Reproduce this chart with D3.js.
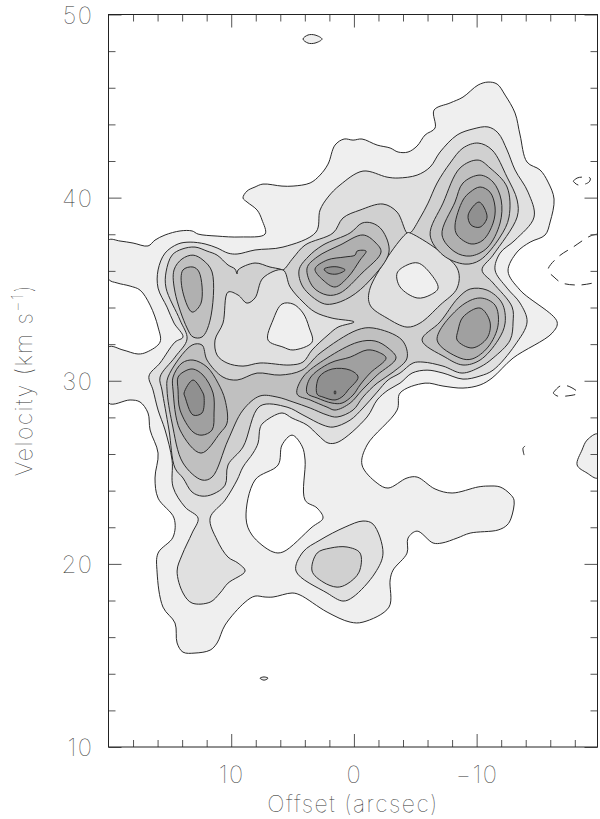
<!DOCTYPE html>
<html><head><meta charset="utf-8">
<style>html,body{margin:0;padding:0;background:#fff}svg{display:block}text{font-family:"Inter","DejaVu Sans";font-weight:100;fill:#333}</style>
<script src="https://cdn.jsdelivr.net/npm/d3@7/dist/d3.min.js"></script></head><body>
<svg id="c" width="600" height="819"></svg>
<script>
// Axis values
const offsetMajor=[10,0,-10], offsetMinor=[18,16,14,12,8,6,4,2,-2,-4,-6,-8,-12,-14,-16,-18];
const velocityMajor=[50,40,30,20,10], velocityMinor=[48,46,44,42,38,36,34,32,28,26,24,22,18,16,14,12];
// Contours: [offset arcsec, velocity km/s]
const level1Main=[[20,37.68],[19.06,37.63],[18,37.52],[16.78,37.36],[16.21,37.68],[15.39,37.96],[14.17,38.18],[13.19,38.18],[12.7,38.01],[11.15,37.9],[9.28,37.85],[7.24,38.01],[7.49,38.78],[7.89,39.32],[8.71,39.76],[9.04,39.98],[8.71,40.36],[8.06,40.58],[7.41,40.74],[5.86,40.63],[4.96,40.63],[3.57,40.8],[2.76,41.23],[2.11,41.83],[1.54,42.87],[0.8,43.2],[0.07,43.14],[-0.66,43.2],[-1.89,42.87],[-2.95,42.71],[-3.6,42.49],[-4.41,42.49],[-5.15,42.82],[-5.8,43.42],[-6.61,43.8],[-6.53,44.78],[-7.84,45.17],[-8.89,45.49],[-10.12,46.15],[-10.93,46.31],[-11.67,46.2],[-12.32,45.6],[-13.13,44.62],[-13.54,43.42],[-14.11,41.94],[-15.17,41.51],[-15.82,40.85],[-16.31,39.92],[-15.99,38.67],[-15.58,37.96],[-14.36,37.57],[-13.3,37.03],[-12.56,35.99],[-13.54,34.95],[-16.56,33.21],[-16.15,32.6],[-12.97,31.24],[-11.26,30.15],[-10.28,29.77],[-8.89,29.6],[-7.26,29.71],[-5.8,29.87],[-3.76,29.33],[-3.52,28.4],[-1.07,26.49],[-0.66,25.4],[-1.89,24.41],[-2.78,24.14],[-4.33,24.69],[-5.15,24.74],[-6.61,24.09],[-8,23.87],[-10.12,24.2],[-10.93,24.25],[-11.91,24.2],[-12.73,23.81],[-13.05,23.48],[-12.81,22.5],[-12.48,22.12],[-11.75,21.85],[-9.47,21.68],[-8.41,21.41],[-7.18,21.14],[-6.45,21.14],[-5.15,21.79],[-4.41,21.41],[-4.33,20.59],[-3.19,19.66],[-2.95,19.12],[-2.86,17.64],[-0.74,16.82],[0.31,16.82],[2.19,17.37],[4.39,18.3],[5.04,18.41],[6.59,18.19],[7.24,18.19],[8.06,18.24],[8.87,17.91],[10.5,16.66],[11.15,15.68],[11.72,15.29],[12.95,15.13],[13.93,15.18],[14.41,15.68],[14.58,16.77],[15.56,17.64],[16.04,19.55],[15.96,20.59],[14.74,21.46],[14.66,22.5],[15.96,23.59],[16.21,24.69],[15.96,26.05],[16.61,27.31],[16.78,28.24],[17.43,28.84],[18.24,28.95],[20,28.78],[20,31.84],[18.82,31.68],[17.59,31.46],[16.86,31.57],[15.8,32.11],[15.96,32.93],[16.61,34.13],[17.43,34.95],[18.24,35.17],[19.3,35.34],[20,35.55]];
const level1Top=[[4.15,48.66],[3.74,48.88],[3.17,48.88],[2.6,48.66],[3.17,48.44],[3.74,48.44]];
const level1Tiny=[[7.65,13.76],[7.41,13.82],[7.24,13.82],[7,13.76],[7.24,13.66],[7.41,13.66]];
const level1Edge=[[-19.85,27.09],[-19,26.76],[-18.59,26.22],[-18.19,25.4],[-19,24.96],[-19.85,24.69]];
const level0Hole=[[5.04,27.03],[4.23,26.43],[3.98,25.67],[3.98,23.48],[3,23.05],[2.52,22.5],[3.41,22.01],[5.78,20.65],[6.59,20.65],[8.3,21.57],[8.79,22.5],[8.06,24.58],[6.18,25.4],[5.86,26.49]];
const level2Main=[[16.7,30.26],[15.8,30.97],[14.58,32.11],[13.93,32.39],[14.66,33.15],[15.23,34.02],[15.96,35.06],[15.96,36.05],[15.39,36.97],[14.33,37.47],[13.35,37.57],[12.13,37.47],[11.15,37.25],[10.26,36.97],[9.52,36.92],[8.06,37.14],[5.78,37.3],[3.09,38.12],[2.76,39.32],[2.11,40.03],[1.13,40.69],[-0.74,41.45],[-2.7,41.12],[-3.6,41.07],[-5.15,41.23],[-6.21,41.67],[-7.02,42.49],[-8.41,43.42],[-9.71,43.75],[-10.93,43.86],[-11.75,43.53],[-12.48,42.6],[-13.13,41.51],[-14.19,40.3],[-14.68,38.94],[-13.13,37.68],[-11.91,36.97],[-11.5,36.05],[-12.48,35.06],[-13.54,34.24],[-14.11,33.21],[-13.13,31.95],[-11.34,30.58],[-10.28,30.26],[-8.89,30.09],[-7.26,30.42],[-5.96,30.58],[-4.74,30.42],[-3.76,29.87],[-2.78,29.49],[-1.89,28.95],[-1.07,28.02],[1.29,26.65],[2.11,26.6],[2.92,27.03],[3.82,27.58],[5.04,27.96],[5.86,28.24],[7.41,27.69],[7.65,27.42],[7.81,26.6],[8.22,26.05],[9.04,25.29],[9.52,24.58],[10.5,23.48],[11.72,22.5],[11.15,21.3],[10.26,20.37],[9.44,20.04],[8.87,19.61],[10.26,18.95],[10.91,18.41],[11.72,17.91],[13.19,17.86],[13.93,18.41],[14.41,19.61],[14.01,20.48],[13.19,21.68],[12.7,22.5],[13.76,23.1],[14.74,24.2],[14.82,25.67],[15.39,27.31],[15.96,28.4],[16.37,29.49]];
const level2Bottom=[[4.72,19.61],[4.15,20.65],[2.76,21.3],[0.72,22.01],[-0.74,22.34],[-1.56,22.17],[-2.37,20.59],[-1.72,19.5],[0.07,18.19],[0.89,17.97],[2.19,18.41]];
const level3Bottom=[[3.41,19.61],[3,20.59],[1.94,20.86],[0.56,20.92],[-0.5,20.59],[-0.42,19.55],[0.56,18.9],[1.37,18.73],[2.52,19.01]];
const level3Main=[[13.6,32.28],[14.17,33.31],[15.31,35.06],[15.31,35.94],[14.82,36.86],[14.01,37.19],[12.95,37.3],[11.97,37.08],[11.15,36.86],[10.26,36.32],[9.69,36.1],[9.52,35.83],[9.44,36.05],[8.06,36.43],[6.84,36.21],[6.02,36.1],[5.78,36.05],[4.96,36.7],[3.98,37.41],[1.7,38.07],[0.89,38.89],[-0.5,39.32],[-2.37,39.65],[-3.52,39.21],[-4.33,38.07],[-4.58,38.07],[-5.39,38.89],[-6.04,39.7],[-6.78,40.8],[-7.84,41.89],[-8.89,42.71],[-10.12,42.98],[-11.26,42.6],[-12.48,41.12],[-13.3,39.87],[-13.3,38.94],[-11.34,36.86],[-10.44,36.05],[-11.34,35.34],[-12.89,34.03],[-12.97,33.21],[-12.73,32.22],[-11.34,31.24],[-10.28,30.75],[-8.81,30.42],[-7.26,30.8],[-5.63,31.02],[-4.82,30.97],[-3.76,30.42],[-2.78,30.04],[-1.89,29.38],[-0.74,28.51],[0.31,27.85],[1.7,27.47],[2.52,27.58],[4.15,28.13],[5.45,28.56],[7.65,28.62],[9.04,26.38],[10.26,25.4],[10.5,24.3],[11.48,23.81],[12.38,23.7],[13.19,23.92],[13.93,24.69],[14.58,25.23],[15.07,27.31],[15.64,29.49],[15.8,30.2],[14.58,31.29]];
const islandA=[[5.78,36.05],[5.2,35.12],[4.15,34.3],[3.17,33.75],[1.78,33.42],[-0.01,33.21],[1.29,32.93],[2.11,32.5],[3.41,31.68],[4.15,31.02],[5.2,30.86],[7.65,30.97],[9.04,30.8],[10.34,30.97],[11.15,31.4],[11.32,32.22],[10.67,33.15],[10.26,34.84],[9.44,34.68],[8.71,34.24],[8.06,34.52],[7.41,35.61]];
const islandB=[[-4.33,38.07],[-1.32,35.06],[-1.32,34.13],[-2.7,33.42],[-4.33,32.93],[-5.39,33.15],[-7.02,34.13],[-8.41,35.06],[-8.41,36.15],[-4.58,38.07]];
const holeA=[[5.86,34.19],[4.96,34.19],[4.15,33.7],[3.66,32.93],[3.41,32.11],[4.96,31.68],[5.78,31.84],[7,32.22],[6.59,33.32]];
const holeB=[[-3.52,35.88],[-4.33,36.32],[-5.23,36.43],[-6.21,35.88],[-6.86,35.06],[-6.21,34.68],[-5.15,34.52],[-3.76,35.12]];
const ulL4=[[14.66,36.05],[14.01,36.65],[13.11,36.86],[12.3,36.59],[11.56,35.94],[11.72,33.31],[12.38,32.39],[13.11,32.39],[13.6,32.88],[14.58,34.84]];
const ulL5=[[13.93,36.05],[13.11,36.21],[12.62,35.94],[12.46,34.24],[13.19,33.75],[14.01,35.06]];
const bandL4=[[13.19,31.95],[12.38,31.95],[11.97,31.13],[10.67,30.2],[9.52,30.04],[7.89,30.42],[6.02,30.31],[4.23,30.58],[2.76,31.51],[-0.26,32.77],[-1.56,32.88],[-3.92,32.22],[-4.33,31.24],[-3.19,30.47],[-1.89,29.87],[-0.74,29.11],[0.07,28.4],[1.37,28.02],[2.19,28.13],[3.57,28.51],[4.96,28.84],[6.26,29.11],[7.65,29.17],[9.04,28.4],[10.26,26.76],[11.56,24.74],[12.38,24.58],[13.93,25.51],[14.82,27.69],[15.23,29.49],[15.15,30.2]];
const llL5=[[14.74,30.2],[14.01,30.97],[13.11,31.13],[11.97,30.75],[11.07,29.87],[10.5,28.95],[10.34,27.69],[10.91,27.14],[12.46,26.05],[14.17,27.31],[14.74,29.49]];
const llL6=[[14.33,30.2],[13.76,30.53],[13.11,30.64],[12.3,30.31],[11.48,29.33],[11.4,28.24],[11.56,27.31],[12.38,27.03],[13.11,27.2],[14.17,28.4],[14.33,29.49]];
const llL7=[[13.84,29.33],[13.11,30.04],[12.3,29.33],[12.21,29.11],[12.38,28.24],[13.11,28.13],[13.76,29.11]];
const ubL4=[[4.47,36.05],[3.74,36.76],[2.52,37.41],[0.31,38.07],[-0.66,38.61],[-1.48,38.61],[-2.29,38.23],[-2.86,37.03],[-1.32,35.5],[0.31,34.57],[1.78,34.19],[2.6,34.24],[4.15,35.12]];
const ubL5=[[3.82,36.15],[3,36.76],[1.13,37.41],[-0.74,37.96],[-1.72,37.57],[-2.21,37.03],[-0.66,35.88],[1.13,34.79],[2.19,34.68],[3.33,35.12]];
const ubL6=[[3.17,36.1],[2.19,36.59],[0.72,36.76],[-0.09,36.86],[-0.26,37.08],[-0.99,37.08],[-0.5,36.59],[0.48,35.66],[1.54,35.12],[2.52,35.5]];
const ubL7=[[2.43,36.1],[1.94,36.21],[1.29,36.21],[0.72,36.05],[1.37,35.83],[2.11,35.88]];
const mlL5=[[4.63,29.27],[4.15,30.2],[2.19,31.24],[-0.34,32.11],[-1.72,32.17],[-2.78,31.79],[-3.43,31.24],[-1.89,30.31],[-0.66,29.49],[0.31,28.78],[1.54,28.4],[2.19,28.56],[3.57,28.95]];
const mlL6=[[3.82,29.33],[3.57,30.15],[1.94,30.97],[0.31,31.29],[-1.07,31.68],[-1.97,31.57],[-2.62,31.24],[-1.32,30.42],[-0.5,29.77],[0.07,29.22],[0.97,28.78],[1.78,28.78],[3,29.06]];
const mlL7=[[3,29.27],[2.84,30.2],[1.78,30.64],[0.31,30.58],[-0.34,30.2],[0.48,29.49],[0.89,29.16],[1.54,28.95],[2.52,29.11]];
const mlL8=[[1.58,29.44],[1.5,29.44],[1.5,29.28],[1.58,29.28]];
const urL4=[[-10.12,42.05],[-11.09,41.62],[-12.48,40.58],[-12.64,38.94],[-11.91,37.85],[-10.28,36.59],[-9.05,36.37],[-7.26,36.86],[-6.21,37.96],[-7.26,39.7],[-8.65,41.62]];
const urL5=[[-10.28,41.23],[-11.34,40.85],[-12,39.87],[-11.91,38.61],[-10.85,37.25],[-9.47,36.81],[-8.24,37.03],[-7.18,37.96],[-8.24,39.76],[-8.89,40.8]];
const urL6=[[-10.28,40.58],[-11.09,40.3],[-11.5,39.49],[-11.34,38.61],[-10.52,37.68],[-9.55,37.47],[-8.41,37.96],[-8.24,38.5],[-8.89,39.87],[-9.47,40.3]];
const urL7=[[-10.2,39.76],[-10.85,38.94],[-10.28,38.39],[-9.55,38.5],[-9.31,39.05]];
const lrL4=[[-5.55,32.22],[-7.02,33.21],[-8.49,34.52],[-9.47,35.01],[-10.85,34.95],[-12.07,34.24],[-12.32,33.15],[-11.75,32.22],[-10.28,31.13],[-8.89,30.86],[-7.43,31.29]];
const lrL5=[[-6.78,32.22],[-8.65,34.03],[-10.28,34.52],[-11.5,34.13],[-11.75,33.04],[-10.93,31.84],[-9.63,31.19],[-8.65,31.24]];
const lrL6=[[-8.49,32.77],[-8.89,33.48],[-10.28,33.97],[-11.09,33.21],[-10.85,32.33],[-9.63,31.79],[-8.41,32.22]];
const dashedLarge=[[-19.85,38.01],[-19.25,37.9],[-17.86,37.3],[-16.64,36.76],[-15.82,36.05],[-16.31,35.66],[-16.96,35.34],[-18.43,35.23],[-19.85,35.39]];
const dashedTop=[[-17.86,40.9],[-18.19,41.07],[-18.59,41.12],[-19.25,41.07],[-19.16,40.85],[-18.27,40.69],[-17.86,40.9]];
const dashedLow=[[-16.23,29.33],[-16.8,29.71],[-17.45,29.71],[-18.27,29.33],[-17.37,29.17],[-16.56,29.17],[-16.23,29.33]];
const fragment=[[-13.95,26.43],[-13.78,26.32],[-13.87,25.94]];
const shades=["#ffffff","#efefef","#e0e0e0","#d0d0d0","#c0c0c0","#b0b0b0","#a0a0a0","#909090","#808080"];

const layers=[[1,level1Main],[1,level1Top],[1,level1Tiny],[1,level1Edge],[0,level0Hole],
 [2,level2Main],[2,level2Bottom],[3,level3Main],[3,level3Bottom],[2,islandA],[2,islandB],[1,holeA],[1,holeB],
 [4,ulL4],[5,ulL5],[4,bandL4],[5,llL5],[6,llL6],[7,llL7],[4,ubL4],[5,ubL5],[6,ubL6],[7,ubL7],
 [5,mlL5],[6,mlL6],[7,mlL7],[8,mlL8],[4,urL4],[5,urL5],[6,urL6],[7,urL7],[4,lrL4],[5,lrL5],[6,lrL6]];

const L=108.5,R=597.5,T=14.5,B=747;
const x=d3.scaleLinear().domain([20,-19.85]).range([L,R]);
const y=d3.scaleLinear().domain([50,10]).range([T,B]);
const svg=d3.select("#c");
svg.append("defs").append("clipPath").attr("id","frame").append("rect").attr("x",L).attr("y",T).attr("width",R-L).attr("height",B-T);
const closed=d3.line().x(d=>x(d[0])).y(d=>y(d[1])).curve(d3.curveCatmullRomClosed.alpha(0.5));
const line=d3.line().x(d=>x(d[0])).y(d=>y(d[1])).curve(d3.curveCatmullRom.alpha(0.5));
const plot=svg.append("g").attr("clip-path","url(#frame)");
plot.selectAll("path.lev").data(layers).join("path").attr("class","lev")
 .attr("d",d=>closed(d[1])).attr("fill",d=>shades[d[0]])
 .attr("stroke","#2a2a2a").attr("stroke-width",1).attr("stroke-linejoin","round");
plot.selectAll("path.neg").data([dashedLarge,dashedTop,dashedLow]).join("path").attr("class","neg")
 .attr("d",line).attr("fill","none").attr("stroke","#2a2a2a").attr("stroke-width",1).attr("stroke-dasharray","10 7");
plot.append("path").attr("d",line(fragment)).attr("fill","none").attr("stroke","#2a2a2a");

function drawAxis(maker,scale,values,len,fmt,tx,ty){
  const gen=maker(scale).tickValues(values).tickSizeOuter(0).tickSizeInner(-len).tickFormat(fmt);
  const g=svg.append("g").attr("transform",`translate(${tx},${ty})`).call(gen);
  g.select(".domain").remove();
  g.selectAll(".tick line").attr("stroke","#555");
  return g;
}
const fmtX=d=>d<0?"\u2212"+Math.abs(d):""+d;
const none=()=>"";
drawAxis(d3.axisBottom,x,offsetMinor,7,none,0,B);
drawAxis(d3.axisTop,x,offsetMinor,7,none,0,T);
drawAxis(d3.axisTop,x,offsetMajor,13,none,0,T);
drawAxis(d3.axisBottom,x,offsetMajor,13,fmtX,0,B).selectAll("text")
  .attr("y",36).attr("dy",0).style("font-size","24px").style("letter-spacing","1.5px").attr("text-anchor","middle");
drawAxis(d3.axisLeft,y,velocityMinor,7,none,L,0);
drawAxis(d3.axisRight,y,velocityMinor,7,none,R,0);
drawAxis(d3.axisRight,y,velocityMajor,13,none,R,0);
drawAxis(d3.axisLeft,y,velocityMajor,13,d3.format("d"),L,0).selectAll("text")
  .attr("x",-15).attr("dy","0.36em").style("font-size","24px").style("letter-spacing","1.5px").attr("text-anchor","end");
svg.append("rect").attr("x",L).attr("y",T).attr("width",R-L).attr("height",B-T).attr("fill","none").attr("stroke","#222").attr("stroke-width",1);

svg.append("text").attr("x",353).attr("y",812).attr("text-anchor","middle").style("font-size","23px").style("letter-spacing","1.5px").text("Offset (arcsec)");
const yl=svg.append("text").attr("transform","translate(32,380) rotate(-90)").attr("text-anchor","middle").style("font-size","23px").style("letter-spacing","1.5px");
yl.append("tspan").text("Velocity (km s");
yl.append("tspan").attr("dy",-9).style("font-size","16px").text("\u22121");
yl.append("tspan").attr("dy",9).text(")");
</script></body></html>
